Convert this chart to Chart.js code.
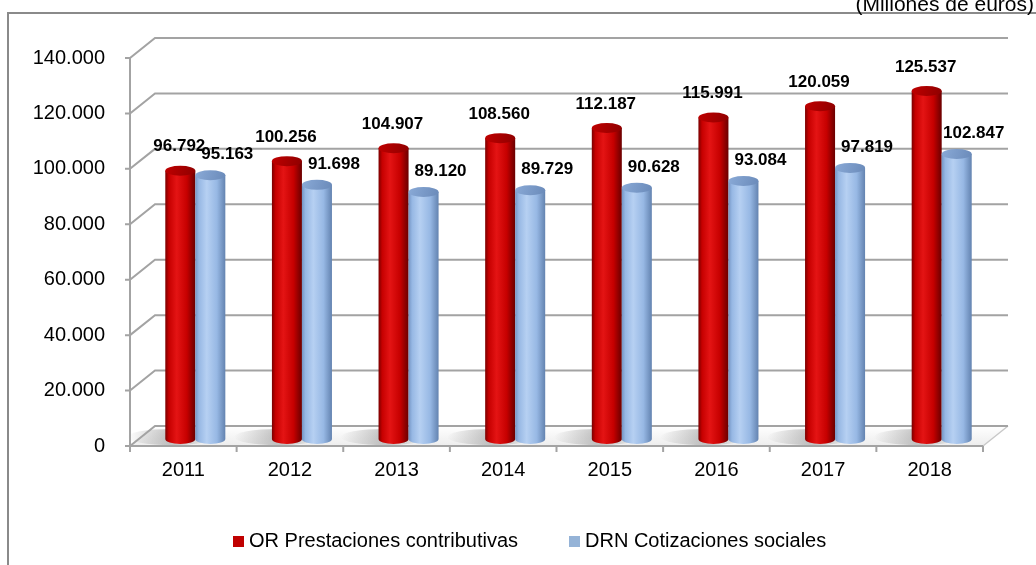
<!DOCTYPE html>
<html>
	<head>
		<meta charset="utf-8" />
		<title>OR Prestaciones vs DRN Cotizaciones</title>
		<script src="https://cdn.jsdelivr.net/npm/chart.js@4.4.1/dist/chart.umd.min.js"></script>
		<style>
			html, body { margin: 0; padding: 0; background: #fff; }
			#wrap { width: 1036px; height: 565px; position: relative; }
		</style>
	</head>
	<body>
		<div id="wrap"><canvas id="myChart"></canvas></div>
	<script>
        // data (millones de euros)
        const years = ['2011', '2012', '2013', '2014', '2015', '2016', '2017', '2018'];
        const orPrestaciones = [96792, 100256, 104907, 108560, 112187, 115991, 120059, 125537];
        const drnCotizaciones = [95163, 91698, 89120, 89729, 90628, 93084, 97819, 102847];
        const seriesNames = ['OR Prestaciones contributivas', 'DRN Cotizaciones sociales'];
        const yMax = 140000;
        const yStep = 20000;
        const unitsNote = '(Millones de euros)';

        // 3d look
        const DX = 25, DY = -20;   // depth of the walls
        const BX = 12, BY = -7;    // bars sit half way in
        const gridColor = '#a3a3a3';

        const redShade = { edgeL: '#7a0000', light: '#e41414', mid: '#c60000', edgeR: '#6a0000', top1: '#c00000', top2: '#8e0000' };
        const blueShade = { edgeL: '#7495c4', light: '#b6d0f2', mid: '#97b8e4', edgeR: '#6383b0', top1: '#8aaad7', top2: '#6a8ab9' };

        function fmt(n){
            return String(n).replace(/\B(?=(\d{3})+(?!\d))/g, '.');
        }

        function cylinder(ctx, cx, top, bottom, w, c){
            const rx = w / 2, ry = 5;
            const left = cx - rx;
            let g = ctx.createLinearGradient(left, 0, left + w, 0);
            g.addColorStop(0, c.edgeL);
            g.addColorStop(0.12, c.mid);
            g.addColorStop(0.38, c.light);
            g.addColorStop(0.72, c.mid);
            g.addColorStop(1, c.edgeR);
            ctx.fillStyle = g;
            ctx.beginPath();
            ctx.moveTo(left, top);
            ctx.lineTo(left, bottom);
            ctx.ellipse(cx, bottom, rx, ry, 0, Math.PI, 0, true);
            ctx.lineTo(left + w, top);
            ctx.closePath();
            ctx.fill();
            // cap
            g = ctx.createLinearGradient(left, top - ry, left + w, top + ry);
            g.addColorStop(0, c.top1);
            g.addColorStop(1, c.top2);
            ctx.fillStyle = g;
            ctx.beginPath();
            ctx.ellipse(cx, top, rx, ry, 0, 0, Math.PI * 2);
            ctx.fill();
        }

        const frame3d = {
            id: 'frame3d',
            beforeDraw(chart){
                const ctx = chart.ctx;
                ctx.save();
                ctx.strokeStyle = '#8a8a8a';
                ctx.lineWidth = 2;
                ctx.strokeRect(8, 13, 1040, 570);
                ctx.fillStyle = '#000';
                ctx.font = '21px "Liberation Sans", Arial, sans-serif';
                ctx.textAlign = 'right';
                ctx.textBaseline = 'alphabetic';
                ctx.fillText(unitsNote, 1034, 11);
                ctx.restore();
            },
            beforeDatasetsDraw(chart){
                const ctx = chart.ctx;
                const y = chart.scales.y, x = chart.scales.x;
                const L = chart.chartArea.left, R = chart.chartArea.right;
                const y0 = y.getPixelForValue(0);
                ctx.save();
                // floor
                let g = ctx.createLinearGradient(0, y0 + DY, 0, y0);
                g.addColorStop(0, '#ffffff');
                g.addColorStop(1, '#ededed');
                ctx.fillStyle = g;
                ctx.beginPath();
                ctx.moveTo(L, y0);
                ctx.lineTo(R, y0);
                ctx.lineTo(R + DX, y0 + DY);
                ctx.lineTo(L + DX, y0 + DY);
                ctx.closePath();
                ctx.fill();
                ctx.strokeStyle = '#c8c8c8';
                ctx.lineWidth = 1.5;
                ctx.beginPath();
                ctx.moveTo(R, y0); ctx.lineTo(R + DX, y0 + DY);
                ctx.stroke();
                // shadows of the bars on the floor
                for (let i = 0; i < years.length; i++){
                    const cx = x.getPixelForValue(i) + BX - 24;
                    const cy = y0 + BY - 2;
                    const r = ctx.createRadialGradient(cx, cy, 2, cx, cy, 44);
                    r.addColorStop(0, 'rgba(110,110,110,0.4)');
                    r.addColorStop(1, 'rgba(110,110,110,0)');
                    ctx.fillStyle = r;
                    ctx.beginPath();
                    ctx.ellipse(cx, cy, 44, 8, 0, 0, Math.PI * 2);
                    ctx.fill();
                }
                // gridlines: slant + back wall
                ctx.strokeStyle = gridColor;
                ctx.lineWidth = 2;
                for (const t of y.ticks){
                    const py = y.getPixelForValue(t.value);
                    ctx.beginPath();
                    ctx.moveTo(L - 5, py);
                    ctx.lineTo(L, py);
                    ctx.lineTo(L + DX, py + DY);
                    ctx.lineTo(R + DX, py + DY);
                    ctx.stroke();
                }
                // front axes
                ctx.beginPath();
                ctx.moveTo(L, y.getPixelForValue(yMax));
                ctx.lineTo(L, y0);
                ctx.lineTo(R, y0);
                ctx.stroke();
                const step = (R - L) / years.length;
                for (let i = 0; i <= years.length; i++){
                    ctx.beginPath();
                    ctx.moveTo(L + i * step, y0);
                    ctx.lineTo(L + i * step, y0 + 6);
                    ctx.stroke();
                }
                ctx.restore();
            },
            beforeDatasetDraw(){
                return false;
            },
            afterDatasetsDraw(chart){
                const ctx = chart.ctx;
                const m0 = chart.getDatasetMeta(0).data, m1 = chart.getDatasetMeta(1).data;
                ctx.save();
                for (let i = 0; i < years.length; i++){
                    [[m0[i], redShade], [m1[i], blueShade]].forEach(([el, c]) => {
                        cylinder(ctx, el.x + BX, el.y + BY, el.base + BY, el.width, c);
                    });
                }
                ctx.fillStyle = '#000';
                ctx.font = 'bold 17px "Liberation Sans", Arial, sans-serif';
                ctx.textAlign = 'center';
                ctx.textBaseline = 'middle';
                for (let i = 0; i < years.length; i++){
                    const r = m0[i], b = m1[i];
                    ctx.fillText(fmt(orPrestaciones[i]), r.x + BX - 1, r.y + BY - 5 - 19);
                    ctx.fillText(fmt(drnCotizaciones[i]), b.x + BX + 17, b.y + BY - 5 - 16);
                }
                // legend
                ctx.font = '20px "Liberation Sans", Arial, sans-serif';
                ctx.textAlign = 'left';
                ctx.textBaseline = 'alphabetic';
                const lx = [233, 569];
                const lc = ['#c00000', '#95b3d7'];
                for (let k = 0; k < 2; k++){
                    ctx.fillStyle = lc[k];
                    ctx.fillRect(lx[k], 536, 11, 11);
                    ctx.fillStyle = '#000';
                    ctx.fillText(seriesNames[k], lx[k] + 16, 547);
                }
                ctx.restore();
            }
        };

        Chart.defaults.font.family = '"Liberation Sans", Arial, sans-serif';

        let myChart = new Chart(document.getElementById('myChart').getContext('2d'), {
            type: 'bar',
            data: {
                labels: years,
                datasets: [
                    { label: seriesNames[0], data: orPrestaciones, backgroundColor: '#c00000' },
                    { label: seriesNames[1], data: drnCotizaciones, backgroundColor: '#95b3d7' }
                ]
            },
            options: {
                responsive: true,
                maintainAspectRatio: false,
                animation: false,
                datasets: { bar: { categoryPercentage: 0.563, barPercentage: 1.0 } },
                layout: { padding: { left: 0, right: 53, top: 58, bottom: 0 } },
                plugins: { legend: { display: false }, tooltip: { enabled: false } },
                scales: {
                    x: {
                        grid: { display: false },
                        border: { display: false },
                        ticks: { color: '#000', font: { size: 20 }, padding: 4 },
                        afterFit: s => { s.height = 119; }
                    },
                    y: {
                        min: 0,
                        max: yMax,
                        grid: { display: false },
                        border: { display: false },
                        ticks: { stepSize: yStep, color: '#000', font: { size: 20 }, padding: 17, callback: v => fmt(v) },
                        afterFit: s => { s.width = 130; }
                    }
                }
            },
            plugins: [frame3d]
        });
	</script>
	</body>
</html>
